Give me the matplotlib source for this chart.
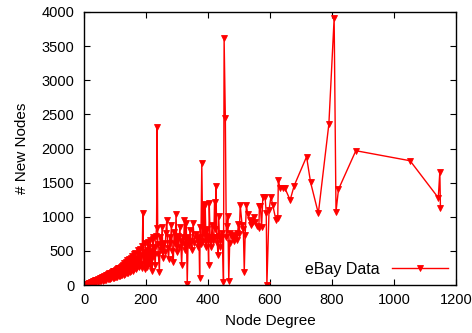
import matplotlib
matplotlib.use('Agg')
import matplotlib.pyplot as plt
import numpy as np

plt.rcParams['font.family'] = ['Liberation Sans', 'DejaVu Sans']
plt.rcParams['font.size'] = 10.5

# node degree / number of new nodes
deg_a = list(range(1, 41))
new_a = [1, 3, 5, 5, 9, 7, 12, 9, 15, 11, 18, 13, 21, 15, 25, 17, 29, 19, 33, 21,
         37, 23, 41, 25, 45, 27, 49, 29, 53, 31, 58, 33, 62, 35, 66, 37, 70, 40, 74, 43]

deg_b = list(range(42, 121, 2))
new_b = [80, 50, 90, 55, 100, 58, 110, 62, 118, 66, 125, 72, 135, 76, 145, 80, 150, 85, 160, 90,
         170, 95, 180, 100, 190, 105, 200, 110, 210, 115, 225, 120, 235, 125, 245, 130, 255, 135, 265, 140]

deg_c = list(range(122, 241, 2))
new_c = [280, 140, 300, 150, 320, 160, 250, 340, 170, 360, 180, 280, 380, 190, 400, 200, 300, 430, 210, 450,
         230, 330, 470, 240, 400, 260, 510, 270, 360, 530, 290, 440, 250, 570, 1050, 310, 480, 240, 610, 330,
         520, 270, 630, 340, 560, 290, 660, 370, 500, 210, 700, 669, 420, 560, 290, 720, 840, 2320, 600, 450]

deg_d = list(range(243, 349, 3))
new_d = [195, 700, 520, 850, 400, 620, 480, 760, 952, 540, 380, 700, 620, 880, 500, 341, 780, 600, 1040, 480,
         720, 560, 850, 640, 293, 700, 600, 960, 520, 913, 10, 700, 580, 800, 650, 520]

deg_e = [352, 356, 360, 364, 368, 371, 373, 375, 377, 380, 383, 386, 389, 391, 394, 397, 400, 402, 404, 407,
         410, 413, 416, 419, 421, 424, 426, 428, 430, 432, 434, 437, 440, 443, 446, 450, 452, 456, 459, 462,
         464, 467, 470, 472, 476, 480, 484, 488, 492, 494, 498, 501, 504, 510, 514, 517, 520, 524, 528, 534,
         538, 542, 548, 553, 558, 564, 566, 569, 573, 577, 584, 588, 590, 597, 603, 609, 619, 625, 627, 632,
         643, 648, 665, 678, 718, 731, 756, 790, 807, 813, 821, 877, 1052, 1143, 1148, 1150]
new_e = [903, 620, 750, 680, 560, 700, 98, 854, 600, 1790, 650, 1186, 720, 1172, 560, 820, 640, 293, 1197, 700,
         560, 880, 640, 700, 1221, 820, 1445, 700, 620, 440, 1010, 720, 560, 680, 760, 49, 3620, 2440, 700, 860,
         1011, 63, 620, 757, 700, 740, 650, 700, 760, 659, 900, 750, 1172, 880, 820, 195, 740, 1167, 1040, 960,
         880, 903, 1000, 920, 860, 830, 1157, 1157, 854, 1294, 1294, 1055, 0, 1099, 1294, 1172, 952, 981, 1538, 1421,
         1421, 1421, 1245, 1455, 1880, 1504, 1050, 2359, 3911, 1074, 1402, 1968, 1821, 1279, 1660, 1124]

degree = np.array(deg_a + deg_b + deg_c + deg_d + deg_e)
new_nodes = np.array(new_a + new_b + new_c + new_d + new_e)

fig = plt.figure(figsize=(4.72, 3.33), dpi=100)
ax = fig.add_axes([0.178, 0.144, 0.788, 0.820])

ax.plot(degree, new_nodes, color='#ff0000', lw=1, marker='v', ms=4,
        markeredgewidth=0.6, label='eBay Data')

ax.set_xlim(0, 1200)
ax.set_ylim(0, 4000)
ax.set_xticks(np.arange(0, 1201, 200))
ax.set_yticks(np.arange(0, 4001, 500))
ax.tick_params(direction='in', top=True, right=True, length=4, width=0.8)
ax.tick_params(axis='y', pad=7)
ax.tick_params(axis='x', pad=6)
for s in ax.spines.values():
    s.set_linewidth(1)

ax.set_xlabel('Node Degree', fontsize=11, labelpad=5)
ax.set_ylabel('# New Nodes', fontsize=11, labelpad=9)

ax.legend(loc='lower right', frameon=False, markerfirst=False, handlelength=3.5,
          borderaxespad=0.1, fontsize=11.5)

fig.savefig('out.png', dpi=100)
